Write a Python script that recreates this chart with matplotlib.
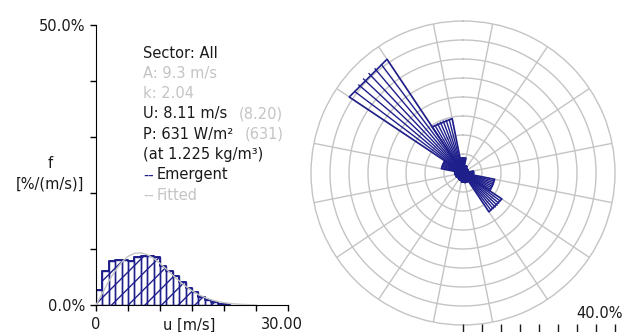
import numpy as np
import matplotlib
matplotlib.use("Agg")
import matplotlib.pyplot as plt

# --- data ---
# emergent frequency per 1 m/s bin, starting at 0 m/s  [%/(m/s)]
emergent = [2.6, 6.0, 7.9, 8.1, 8.0, 7.9, 8.6, 8.7, 8.7, 8.6, 7.0,
            6.0, 5.1, 4.1, 3.1, 2.3, 1.5, 0.9, 0.5, 0.25, 0.1]
# fitted (grey) curve, read at whole m/s
fit_speed = list(range(0, 26))
fit_freq = [0.0, 2.13, 4.25, 6.12, 7.63, 8.68, 9.24, 9.32, 8.99, 8.32, 7.42,
            6.39, 5.32, 4.29, 3.35, 2.54, 1.87, 1.34, 0.93, 0.63, 0.41,
            0.26, 0.16, 0.10, 0.06, 0.03]
# rose: 16 sectors, clockwise from north  [%]
sector_deg = [0, 22.5, 45, 67.5, 90, 112.5, 135, 157.5,
              180, 202.5, 225, 247.5, 270, 292.5, 315, 337.5]
sector_freq = [4.0, 2.0, 1.5, 1.5, 2.8, 8.5, 12.3, 2.6,
               2.4, 2.0, 1.8, 2.0, 2.2, 5.8, 36.0, 14.6]

info_lines = ["Sector: All", "A: 9.3 m/s", "k: 2.04", "U: 8.11 m/s",
              "P: 631 W/m\u00b2", "(at 1.225 kg/m\u00b3)", "Emergent", "Fitted"]
info_grey = [False, True, True, False, False, False, False, True]
info_extra = {3: "(8.20)", 4: "(631)"}

navy = "#1f1f8c"
grey = "#c4c4c4"
dark = "#1a1a1a"
W, H = 624, 332
FS = 10.5

plt.rcParams["font.family"] = ["DejaVu Sans"]
plt.rcParams["hatch.linewidth"] = 1.0
fig = plt.figure(figsize=(W / 100, H / 100), dpi=100)

def px(x, y):
    return x / W, 1 - y / H

# ---------------- histogram ----------------
ax = fig.add_axes([96 / W, (H - 305) / H, 192 / W, 280 / H])
edges = np.arange(len(emergent))
ax.bar(edges, emergent, width=1.0, align="edge", facecolor="none",
       edgecolor=navy, hatch="//", linewidth=1.0)
ax.step(np.append(edges, len(emergent)), np.append(emergent, 0), where="post",
        color=navy, linewidth=1.4)
ax.plot(fit_speed, fit_freq, color=grey, linewidth=1.0, zorder=3)
ax.set_xlim(0, 30)
ax.set_ylim(0, 50)
for s in ("top", "right"):
    ax.spines[s].set_visible(False)
ax.set_xticks(range(0, 31, 5))
ax.set_xticklabels([])
ax.set_yticks(range(0, 51, 10))
ax.set_yticklabels(["0.0%", "", "", "", "", "50.0%"], fontsize=FS, color=dark)
ax.tick_params(axis="both", length=4.5, width=1, direction="out", pad=3)
ax.text(0, -2.2, "0", ha="center", va="top", fontsize=FS, color=dark)
ax.text(14.5, -2.2, "u [m/s]", ha="center", va="top", fontsize=FS, color=dark)
ax.text(29, -2.2, "30.00", ha="center", va="top", fontsize=FS, color=dark)

fig.text(*px(50, 163), "f", ha="center", va="center", fontsize=FS, color=dark)
fig.text(*px(50, 184), "[%/(m/s)]", ha="center", va="center", fontsize=FS, color=dark)

# info block
for i, line in enumerate(info_lines):
    y = 53 + i * 20.3
    col = grey if info_grey[i] else dark
    if line in ("Emergent", "Fitted"):
        fig.text(*px(143, y), "--", ha="left", va="center", fontsize=FS,
                 color=navy if line == "Emergent" else grey)
        t = fig.text(*px(157, y), line, ha="left", va="center", fontsize=FS, color=col)
    else:
        t = fig.text(*px(143, y), line, ha="left", va="center", fontsize=FS, color=col)
    if i in info_extra:
        ax.annotate(info_extra[i], xy=(1, 0.5), xycoords=t, xytext=(8, 0),
                    textcoords="offset points", ha="left", va="center",
                    fontsize=FS, color=grey)

# ---------------- rose ----------------
cx, cy, R = 463, 173, 152
pa = fig.add_axes([(cx - R) / W, (H - cy - R) / H, 2 * R / W, 2 * R / H],
                  projection="polar")
pa.set_theta_zero_location("N")
pa.set_theta_direction(-1)
pa.set_ylim(0, 40)
pa.grid(False)
pa.set_xticks([])
pa.set_yticks([])
pa.spines["polar"].set_color(grey)
pa.spines["polar"].set_linewidth(1.0)

full = np.linspace(0, 2 * np.pi, 361)
for r in range(5, 40, 5):
    pa.plot(full, np.full_like(full, r), color=grey, linewidth=1.0, zorder=1)
width = np.deg2rad(22.5)
for d in sector_deg:
    a = np.deg2rad(d) + width / 2
    pa.plot([a, a], [0, 40], color=grey, linewidth=1.0, zorder=1)

# wedges with straight outer edges and radial hatching
theta = np.deg2rad(sector_deg)
for t, f in zip(theta, sector_freq):
    t0, t1 = t - width / 2, t + width / 2
    pa.plot([t0, t0, t1, t1], [0, f, f, 0], color=navy, linewidth=1.2, zorder=3)
    for off in np.linspace(-width / 2, width / 2, 8)[1:-1]:
        pa.plot([t + off, t + off], [0, f * np.cos(off)], color=navy,
                linewidth=1.0, zorder=3)

# scale ticks under the rose
sa = fig.add_axes([cx / W, 0, R / W, 0.0001])
sa.set_xlim(0, 40)
sa.set_xticks(range(0, 41, 5))
sa.set_xticklabels([])
sa.set_yticks([])
for s in sa.spines.values():
    s.set_visible(False)
sa.tick_params(axis="x", direction="in", length=6, width=1, color=dark)
fig.text(*px(600, 313), "40.0%", ha="center", va="center", fontsize=FS, color=dark)

fig.savefig("out.png", dpi=100)
